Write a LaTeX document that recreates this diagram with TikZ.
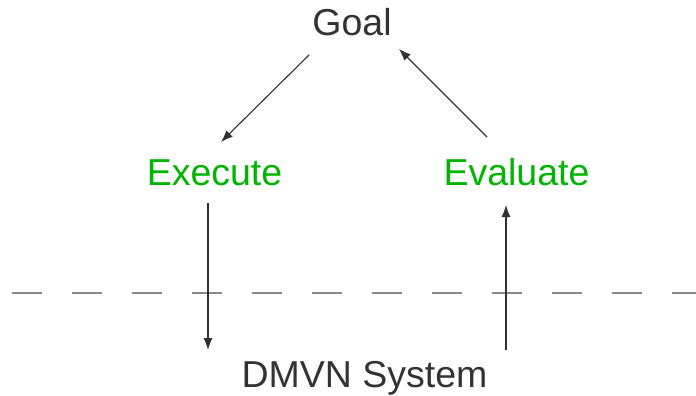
\documentclass[tikz,border=0pt]{standalone}
\usepackage{fontspec}
\setmainfont{Liberation Sans}
\usetikzlibrary{arrows.meta}
\definecolor{txtgray}{HTML}{333333}
\definecolor{stepgreen}{HTML}{00B400}
\definecolor{dashgray}{HTML}{888888}
\definecolor{linegray}{HTML}{303030}
\begin{document}
\begin{tikzpicture}[x=1pt,y=-1pt,
  lbl/.style={anchor=base,inner sep=0pt,font=\fontsize{37.5}{42}\selectfont},
  plain/.style={lbl,text=txtgray},
  stage/.style={lbl,text=stepgreen},
  arr/.style={draw=linegray,line width=1.1pt,-{Latex[length=12pt,width=9pt]}},
  divider/.style={draw=dashgray,line width=1.8pt,dash pattern=on 30pt off 30pt}]
\useasboundingbox (0,0) rectangle (696,396);
\node[plain] (goal) at (352,36) {Goal};
\node[stage] (exec) at (214.5,185) {Execute};
\node[stage] (eval) at (516.5,185) {Evaluate};
\node[plain] (sys) at (364.5,387) {DMVN System};
\coordinate (dl) at (12,293);
\coordinate (dr) at (710,293);
\draw[divider] (dl) -- (dr);
\coordinate (g1) at (309,55);
\coordinate (e1) at (221,142);
\coordinate (v1) at (487,137);
\coordinate (g2) at (399,49);
\coordinate (e2) at (208,203);
\coordinate (s1) at (208,350);
\coordinate (s2) at (506,350);
\coordinate (v2) at (506,205);
\draw[arr] (g1) -- (e1);
\draw[arr] (v1) -- (g2);
\draw[arr] (e2) -- (s1);
\draw[arr] (s2) -- (v2);
\end{tikzpicture}
\end{document}
